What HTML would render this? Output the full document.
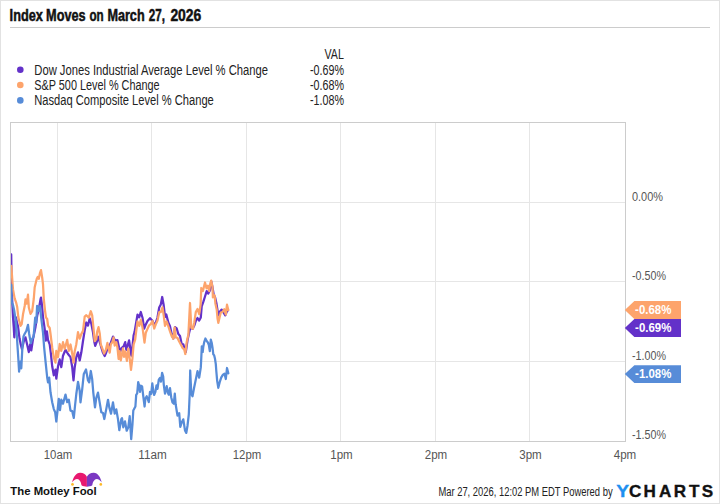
<!DOCTYPE html>
<html><head><meta charset="utf-8"><title>Index Moves on March 27, 2026</title>
<style>
html,body{margin:0;padding:0;background:#fff;}
body{width:720px;height:504px;overflow:hidden;font-family:"Liberation Sans",sans-serif;}
svg{display:block;font-family:"Liberation Sans",sans-serif;}
</style></head><body>
<svg width="720" height="504" viewBox="0 0 720 504">
<rect x="0" y="0" width="720" height="504" fill="#fff"/>
<rect x="0.5" y="0.5" width="719" height="503" fill="none" stroke="#e2e2e2"/>
<text x="9.6" y="21.2" font-size="16" font-weight="bold" fill="#111" stroke="#111" stroke-width="0.5" textLength="33.3" lengthAdjust="spacingAndGlyphs">Index</text><text x="46.1" y="21.2" font-size="16" font-weight="bold" fill="#111" stroke="#111" stroke-width="0.5" textLength="39.5" lengthAdjust="spacingAndGlyphs">Moves</text><text x="89.4" y="21.2" font-size="16" font-weight="bold" fill="#111" stroke="#111" stroke-width="0.5" textLength="14.2" lengthAdjust="spacingAndGlyphs">on</text><text x="107.4" y="21.2" font-size="16" font-weight="bold" fill="#111" stroke="#111" stroke-width="0.5" textLength="37.2" lengthAdjust="spacingAndGlyphs">March</text><text x="148.70000000000002" y="21.2" font-size="16" font-weight="bold" fill="#111" stroke="#111" stroke-width="0.5" textLength="16.2" lengthAdjust="spacingAndGlyphs">27,</text><text x="170.4" y="21.2" font-size="16" font-weight="bold" fill="#111" stroke="#111" stroke-width="0.5" textLength="30.9" lengthAdjust="spacingAndGlyphs">2026</text>
<line x1="10" y1="27.5" x2="710" y2="27.5" stroke="#ccc"/>
<circle cx="20.3" cy="69.8" r="3.3" fill="#6331c9"/><text x="34.3" y="74.5" font-size="13.8" fill="#222" textLength="233.7" lengthAdjust="spacingAndGlyphs">Dow Jones Industrial Average Level % Change</text><text x="310" y="74.5" font-size="13.8" fill="#222" textLength="34" lengthAdjust="spacingAndGlyphs">-0.69%</text><circle cx="20.3" cy="85" r="3.3" fill="#fda46c"/><text x="34.3" y="89.8" font-size="13.8" fill="#222" textLength="125.3" lengthAdjust="spacingAndGlyphs">S&amp;P 500 Level % Change</text><text x="310" y="89.8" font-size="13.8" fill="#222" textLength="34" lengthAdjust="spacingAndGlyphs">-0.68%</text><circle cx="20.3" cy="100.4" r="3.3" fill="#578cd8"/><text x="34.3" y="105.1" font-size="13.8" fill="#222" textLength="179.5" lengthAdjust="spacingAndGlyphs">Nasdaq Composite Level % Change</text><text x="310" y="105.1" font-size="13.8" fill="#222" textLength="34" lengthAdjust="spacingAndGlyphs">-1.08%</text><text x="324.5" y="59.2" font-size="13.8" fill="#222" textLength="19.3" lengthAdjust="spacingAndGlyphs">VAL</text>
<g shape-rendering="crispEdges"><line x1="57.5" y1="123" x2="57.5" y2="441" stroke="#e6e6e6"/><line x1="151.5" y1="123" x2="151.5" y2="441" stroke="#e6e6e6"/><line x1="246.5" y1="123" x2="246.5" y2="441" stroke="#e6e6e6"/><line x1="340.5" y1="123" x2="340.5" y2="441" stroke="#e6e6e6"/><line x1="435.5" y1="123" x2="435.5" y2="441" stroke="#e6e6e6"/><line x1="529.5" y1="123" x2="529.5" y2="441" stroke="#e6e6e6"/><line x1="11" y1="202.5" x2="625" y2="202.5" stroke="#e6e6e6"/><line x1="11" y1="281.5" x2="625" y2="281.5" stroke="#e6e6e6"/><line x1="11" y1="361.5" x2="625" y2="361.5" stroke="#e6e6e6"/></g>
<rect x="10.5" y="122.5" width="615" height="319" fill="none" stroke="#ccc" shape-rendering="crispEdges"/>
<clipPath id="pc"><rect x="11" y="123" width="614" height="318"/></clipPath>
<g clip-path="url(#pc)" fill="none" stroke-width="2.25" stroke-linejoin="round" stroke-linecap="round">
<polyline stroke="#6331c9" points="11.2,254.4 11.7,290.3 13.0,317.1 13.8,327.8 14.3,337.3 15.2,326.6 15.9,317.3 17.2,323.7 18.0,326.2 19.5,338.3 20.8,344.8 22.0,349.1 23.8,341.2 25.5,337.4 27.2,344.8 28.8,352.1 30.2,344.5 31.3,350.3 33.0,339.0 35.5,326.9 37.2,315.8 38.8,309.2 40.5,299.4 41.0,297.6 42.0,305.5 43.0,317.1 44.7,328.8 45.8,340.6 46.9,331.3 48.0,339.9 49.7,344.3 50.8,352.9 52.2,366.3 53.8,375.3 55.5,369.6 56.3,378.6 58.0,366.5 59.7,359.4 61.3,367.2 63.0,355.7 65.5,349.8 68.0,354.0 70.5,357.1 72.2,367.0 73.5,380.3 74.7,367.5 76.3,357.2 78.0,352.3 79.7,360.4 81.3,352.6 83.0,341.0 84.7,330.4 86.3,322.5 88.0,325.6 89.7,318.4 91.3,323.6 93.0,332.3 94.2,341.2 95.2,345.8 96.8,341.8 98.0,336.6 99.7,342.0 101.3,347.4 103.0,352.8 104.7,356.1 106.3,352.2 108.0,347.4 110.5,343.6 113.0,336.6 115.0,340.6 117.4,340.1 119.1,347.8 120.2,351.9 121.5,348.2 123.6,346.4 125.2,342.1 126.3,349.9 127.4,346.6 129.1,340.4 130.2,347.8 131.3,355.7 132.4,346.9 133.6,335.4 134.6,331.9 135.8,324.6 137.5,314.6 139.2,317.4 140.8,312.0 142.5,317.7 144.2,328.6 145.8,324.4 147.5,321.0 150.0,318.2 152.5,320.8 154.2,325.6 155.8,322.6 157.5,317.5 159.2,307.5 160.8,304.4 162.2,297.0 163.7,305.3 165.0,316.9 166.3,314.4 168.3,322.4 170.0,326.3 171.7,333.9 173.3,338.7 175.0,327.2 176.7,328.5 178.3,333.9 180.0,336.0 181.7,344.0 183.3,344.4 185.0,350.2 185.8,352.0 187.5,340.3 189.2,332.6 190.8,326.1 192.5,328.9 194.2,325.8 195.8,320.8 197.5,318.0 199.2,320.6 200.8,317.4 201.7,306.4 203.3,301.9 205.0,296.5 206.7,291.1 208.3,293.6 210.0,290.3 211.2,281.2 212.5,287.2 213.7,294.7 215.0,297.0 216.3,302.7 217.5,310.3 218.3,315.3 220.0,311.6 221.7,309.6 223.3,312.2 225.3,315.4 226.7,311.9 228.0,310.0"/>
<polyline stroke="#fda46c" points="11.3,266.0 13.0,289.4 14.7,298.6 16.0,302.1 17.2,307.1 18.3,317.1 20.5,325.8 21.7,324.1 23.0,314.3 24.7,306.0 25.5,299.3 26.7,303.7 28.0,294.7 28.8,307.5 30.5,313.8 32.2,311.2 33.8,298.5 34.7,287.2 36.7,279.0 37.7,276.9 38.8,278.7 40.0,272.8 41.0,270.1 42.2,277.6 43.0,284.3 43.8,299.1 45.0,310.3 46.0,317.6 47.2,319.0 48.0,325.6 49.7,328.0 50.5,333.7 52.2,347.5 53.8,357.6 55.5,362.7 56.3,350.9 58.0,357.1 59.7,344.0 61.3,350.9 63.0,342.2 64.7,349.0 67.2,339.9 68.8,350.9 70.5,344.5 72.2,353.5 73.5,362.7 74.7,351.2 76.3,344.2 78.0,332.2 79.7,338.6 81.3,334.1 83.0,330.9 84.7,316.6 86.3,315.2 88.8,317.6 90.8,311.2 92.2,315.3 93.8,331.4 94.7,341.2 96.3,339.0 97.2,331.6 98.5,327.2 99.7,333.1 100.8,344.5 102.4,348.7 104.1,353.6 105.8,350.1 107.4,342.9 108.6,348.8 109.7,352.7 110.8,344.3 112.4,342.0 113.6,337.5 114.7,345.6 116.3,342.2 117.4,347.2 118.6,359.0 119.7,351.2 120.8,360.4 121.9,354.8 123.0,348.4 124.1,356.8 125.2,351.4 126.9,360.9 128.2,348.6 129.7,358.6 131.0,369.8 132.4,358.4 133.6,344.6 135.2,339.4 136.3,330.4 137.5,321.3 139.2,325.9 140.8,319.7 142.5,327.4 144.5,342.6 145.8,332.7 147.5,328.9 149.2,325.3 150.8,324.1 152.5,320.9 154.2,328.5 155.8,324.3 157.5,320.5 159.2,312.2 160.8,312.1 162.5,307.3 163.7,315.3 165.0,325.8 166.7,321.5 168.3,326.1 170.0,331.3 171.7,336.2 173.3,338.7 174.7,327.5 175.8,337.5 177.5,337.9 179.2,341.5 180.8,344.5 182.5,347.8 184.2,349.3 185.3,354.0 186.7,342.1 188.4,334.4 190.0,303.0 191.3,327.8 193.0,328.9 194.2,322.9 195.8,312.1 197.5,309.0 199.2,314.1 200.6,304.6 201.3,288.0 202.9,291.0 205.0,282.5 206.5,288.3 207.9,285.7 209.2,291.1 210.0,285.0 211.2,280.6 212.5,287.0 212.9,297.4 214.6,295.3 215.4,303.4 216.7,309.5 217.5,318.2 218.3,322.9 219.5,317.7 220.8,312.5 222.5,312.0 224.2,309.3 225.8,314.5 227.0,304.7 228.3,310.0"/>
<polyline stroke="#578cd8" points="11.3,285.0 11.7,302.1 13.0,305.1 14.2,310.5 15.5,319.3 16.3,327.8 17.2,341.4 18.3,358.2 19.1,371.7 20.2,361.7 21.3,368.3 22.4,347.1 23.5,336.4 24.7,333.7 26.3,331.0 28.0,324.9 29.1,333.5 30.8,343.2 31.9,339.4 33.6,336.7 35.2,317.6 36.3,322.6 37.1,305.8 38.6,311.0 40.0,306.1 41.3,318.7 43.0,332.5 44.1,347.0 45.5,361.1 47.2,377.5 48.0,382.4 49.2,377.7 50.5,392.3 52.2,402.3 53.8,409.1 55.2,412.3 56.3,421.5 57.5,411.0 58.8,398.8 60.0,410.2 61.3,399.7 63.0,403.7 65.5,394.6 67.2,402.2 68.8,399.7 70.5,410.7 72.2,411.2 73.8,417.9 75.0,406.0 76.3,394.0 78.0,381.8 79.7,390.8 80.5,402.4 82.2,389.3 83.8,373.9 86.0,369.4 88.0,380.5 89.2,382.4 90.8,371.0 92.2,379.3 93.3,392.6 95.0,407.3 96.3,397.9 98.0,392.6 99.7,402.6 101.3,412.2 103.0,413.0 104.3,419.0 106.3,408.9 108.0,399.8 109.3,407.4 111.0,413.7 113.0,402.3 114.7,413.6 116.3,409.4 118.0,419.3 119.3,430.2 121.3,419.1 122.0,418.1 123.3,427.3 125.0,421.4 126.7,430.7 128.3,427.2 129.7,416.2 131.2,439.1 132.5,423.8 133.3,410.5 135.4,406.5 136.2,394.8 137.2,393.4 138.2,382.1 139.2,385.7 140.0,391.9 140.8,385.6 142.1,386.5 143.3,396.3 144.6,406.5 145.4,398.5 146.7,396.3 147.8,399.1 148.8,402.2 150.0,392.0 151.2,393.8 152.3,383.3 153.3,390.9 154.2,394.9 155.4,391.8 156.5,385.4 157.5,388.9 158.8,379.6 160.0,378.0 161.0,381.6 162.1,372.8 163.2,376.5 163.8,384.8 165.0,393.7 166.7,386.2 167.9,392.7 168.8,394.7 170.0,388.2 171.2,397.2 172.5,402.5 173.8,403.7 174.8,393.6 175.7,404.5 176.7,410.8 177.5,415.6 179.2,413.1 180.3,426.9 181.7,422.5 183.3,419.3 185.0,430.4 186.3,432.9 187.5,425.7 188.8,414.5 189.7,393.8 190.2,370.5 191.3,393.8 192.5,396.3 194.2,387.2 195.8,379.5 197.5,371.1 199.2,377.7 200.8,367.4 201.3,357.4 201.8,346.4 202.7,352.0 203.3,346.7 204.2,342.1 205.4,338.5 206.7,341.1 207.9,342.5 208.8,344.7 209.8,351.1 210.8,339.6 211.7,342.7 212.5,347.7 213.3,354.3 214.2,355.4 215.0,358.8 215.8,364.2 216.3,371.0 217.2,381.1 218.3,387.8 219.7,382.2 221.3,377.4 223.0,374.6 224.5,373.6 225.8,379.0 227.0,368.0 228.3,373.3"/>
</g>
<text x="58" y="459" text-anchor="middle" font-size="12" fill="#555" textLength="28.5" lengthAdjust="spacingAndGlyphs">10am</text><text x="152.5" y="459" text-anchor="middle" font-size="12" fill="#555" textLength="28.5" lengthAdjust="spacingAndGlyphs">11am</text><text x="247" y="459" text-anchor="middle" font-size="12" fill="#555" textLength="28.5" lengthAdjust="spacingAndGlyphs">12pm</text><text x="341.5" y="459" text-anchor="middle" font-size="12" fill="#555" textLength="22.5" lengthAdjust="spacingAndGlyphs">1pm</text><text x="436" y="459" text-anchor="middle" font-size="12" fill="#555" textLength="22.5" lengthAdjust="spacingAndGlyphs">2pm</text><text x="530.5" y="459" text-anchor="middle" font-size="12" fill="#555" textLength="22.5" lengthAdjust="spacingAndGlyphs">3pm</text><text x="625" y="459" text-anchor="middle" font-size="12" fill="#555" textLength="22.5" lengthAdjust="spacingAndGlyphs">4pm</text>
<text x="632" y="200.8" font-size="12" fill="#555" textLength="31" lengthAdjust="spacingAndGlyphs">0.00%</text><text x="632" y="280.1" font-size="12" fill="#555" textLength="34" lengthAdjust="spacingAndGlyphs">-0.50%</text><text x="632" y="359.6" font-size="12" fill="#555" textLength="34" lengthAdjust="spacingAndGlyphs">-1.00%</text><text x="632" y="439" font-size="12" fill="#555" textLength="34" lengthAdjust="spacingAndGlyphs">-1.50%</text>
<path d="M624.8,310.0 L634.4,301 H681 V319 H634.4 Z" fill="#fda46c"/><text x="635.1" y="314.35" font-size="12.6" font-weight="bold" fill="#fff" textLength="36.3" lengthAdjust="spacingAndGlyphs">-0.68%</text><path d="M624.8,327.95 L634.4,319 H681 V336.9 H634.4 Z" fill="#6331c9"/><text x="635.1" y="332.30" font-size="12.6" font-weight="bold" fill="#fff" textLength="36.3" lengthAdjust="spacingAndGlyphs">-0.69%</text><path d="M624.8,374.1 L634.4,365.2 H681 V383 H634.4 Z" fill="#578cd8"/><text x="635.1" y="378.45" font-size="12.6" font-weight="bold" fill="#fff" textLength="36.3" lengthAdjust="spacingAndGlyphs">-1.08%</text>
<path d="M86.9,476.8 C85.5,474 83,472.6 80,472.7 C76,472.9 73.2,477 72.1,482.6 C73.5,480.4 75.3,479.1 77.1,479.1 C79.5,479.2 81,482 81.5,485.3 C83,486.3 85,486.7 86.9,486.7 Z" fill="#e8186f"/><path d="M86.9,476.8 C88.3,474 90.8,472.6 93.8,472.7 C97.8,472.9 100.6,477 101.7,482.6 C100.3,480.4 98.5,479.1 96.7,479.1 C94.3,479.2 92.8,482 92.3,485.3 C90.8,486.3 88.8,486.7 86.9,486.7 Z" fill="#7b38c2"/><circle cx="72.5" cy="484.4" r="1.35" fill="#fdb927"/><circle cx="100.8" cy="484.4" r="1.35" fill="#fdb927"/>
<text x="10.3" y="494.6" font-size="11" font-weight="bold" fill="#111" textLength="86.4" lengthAdjust="spacingAndGlyphs">The Motley Fool</text>
<text x="438.4" y="495.8" font-size="12" fill="#222" textLength="174.2" lengthAdjust="spacingAndGlyphs">Mar 27, 2026, 12:02 PM EDT Powered by</text>
<text x="616.2" y="497.2" font-size="17.1" font-weight="bold" fill="#1e90f0" stroke="#1e90f0" stroke-width="0.3" textLength="12.9" lengthAdjust="spacingAndGlyphs">Y</text>
<text x="629.1 643.6 659 673.7 688.9 701.8" y="497.2" font-size="17.1" font-weight="bold" fill="#111" stroke="#111" stroke-width="0.35">CHARTS</text>
</svg>
</body></html>
